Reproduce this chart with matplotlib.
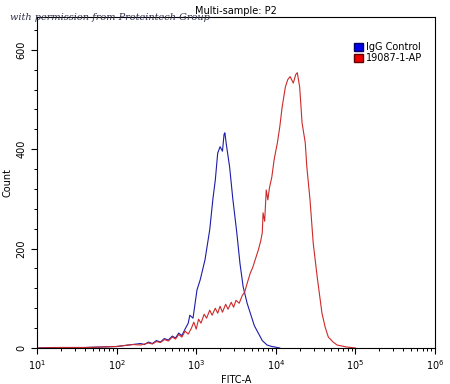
import matplotlib
matplotlib.use("Agg")
import matplotlib.pyplot as plt
from matplotlib.patches import Patch
import numpy as np

# histogram values (log10 of FITC-A, count)
igg_log = [1.00, 1.005, 1.2, 1.4, 1.6, 1.8, 2.0, 2.1, 2.2, 2.3, 2.35, 2.4, 2.45, 2.5,
           2.55, 2.6, 2.65, 2.7, 2.74, 2.78, 2.82, 2.86, 2.9, 2.92, 2.96, 3.01, 3.05,
           3.11, 3.17, 3.21, 3.24, 3.27, 3.30, 3.33, 3.35, 3.36, 3.38, 3.42, 3.46, 3.51,
           3.55, 3.59, 3.64, 3.68, 3.73, 3.78, 3.83, 3.89, 3.95, 3.99, 4.05]
igg_cnt = [30, 0, 1, 1, 1, 2, 3, 5, 7, 9, 7, 12, 9, 15,
           12, 19, 16, 24, 20, 30, 25, 38, 50, 66, 60, 117, 137,
           177, 238, 300, 338, 392, 405, 396, 430, 433, 408, 364, 300, 232,
           170, 123, 90, 70, 45, 30, 15, 6, 3, 2, 0]

ap_log = [1.00, 1.005, 1.3, 1.6, 1.8, 2.0, 2.1, 2.2, 2.3, 2.4, 2.45, 2.5, 2.55, 2.6,
          2.65, 2.7, 2.74, 2.78, 2.82, 2.86, 2.9, 2.94, 2.97, 3.0, 3.03, 3.06, 3.1,
          3.13, 3.17, 3.2, 3.24, 3.27, 3.3, 3.33, 3.37, 3.4, 3.44, 3.47, 3.5, 3.54,
          3.58, 3.61, 3.64, 3.68, 3.71, 3.74, 3.78, 3.81, 3.83, 3.84, 3.86, 3.88, 3.90,
          3.92, 3.95, 3.98, 4.02, 4.05, 4.08, 4.12, 4.15, 4.18, 4.22, 4.25, 4.27, 4.30,
          4.33, 4.37, 4.39, 4.43, 4.47, 4.52, 4.58, 4.62, 4.66, 4.72, 4.77, 4.83, 4.89,
          5.0]
ap_cnt = [35, 0, 1, 1, 2, 3, 5, 7, 6, 10, 8, 13, 11, 17,
          14, 22, 18, 27, 22, 34, 28, 40, 52, 38, 58, 50, 68,
          60, 76, 66, 80, 70, 84, 72, 88, 78, 92, 82, 96, 90,
          106, 113, 130, 151, 162, 177, 197, 215, 232, 272, 255, 318, 298,
          322, 344, 380, 413, 445, 485, 525, 540, 546, 533, 550, 554, 525,
          453, 413, 364, 298, 211, 143, 70, 42, 22, 12, 6, 4, 2,
          0]

fig = plt.figure(figsize=(4.5, 3.84), dpi=100)
ax = fig.add_axes([37 / 450, 36 / 384, 398 / 450, 331 / 384])

ax.plot(10 ** np.array(igg_log), igg_cnt, color="#1c1ca8", lw=0.8)
ax.plot(10 ** np.array(ap_log), ap_cnt, color="#cc2a2a", lw=0.8)

ax.set_xscale("log")
ax.set_xlim(10, 1e6)
ax.set_ylim(0, 666)
ax.set_yticks([0, 200, 400, 600])
ax.set_yticks(np.arange(0, 666, 40), minor=True)
ax.tick_params(labelsize=7, length=4, width=0.8, direction="out")
ax.tick_params(which="minor", length=2.5, width=0.7)
for lab in ax.get_yticklabels():
    lab.set_rotation(90)
    lab.set_va("center")

ax.set_xlabel("FITC-A", fontsize=7, labelpad=2)
ax.set_ylabel("Count", fontsize=7, labelpad=3)
ax.set_title("Multi-sample: P2", fontsize=7, pad=2)

fig.text(10 / 450, 1 - 17 / 384, "with permission from Proteintech Group", fontsize=7,
         style="italic", family="DejaVu Serif", color="#30304a", va="center")

handles = [Patch(facecolor="#0000ee", edgecolor="#000060"),
           Patch(facecolor="#ee0000", edgecolor="#600000")]
ax.legend(handles, ["IgG Control", "19087-1-AP"], loc="upper right", frameon=False,
          fontsize=7, handlelength=0.9, handleheight=0.9, handletextpad=0.3,
          labelspacing=0.1, borderaxespad=0.5, bbox_to_anchor=(0.99, 0.95))

for s in ax.spines.values():
    s.set_linewidth(0.8)

fig.savefig("out.png", dpi=100)
